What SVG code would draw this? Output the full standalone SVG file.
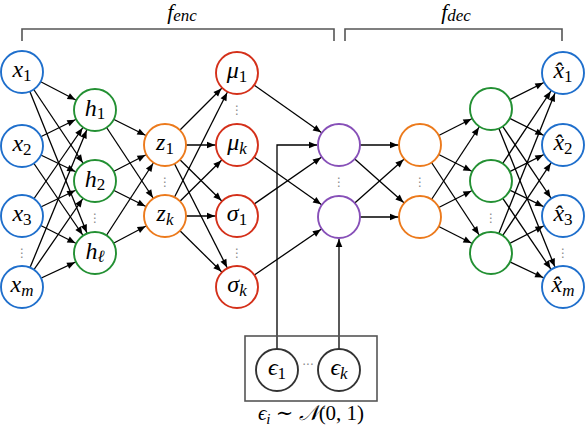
<svg xmlns="http://www.w3.org/2000/svg" width="586" height="432" viewBox="0 0 586 432">
<style>
.e{stroke:#000;stroke-width:1.3;fill:none;marker-end:url(#a)}
.n{fill:#fff;stroke-width:1.9}
.b{stroke:#1f6fcc}.g{stroke:#239033}.o{stroke:#ec7a1c}.r{stroke:#d4301a}.p{stroke:#8750b8}.k{stroke:#333}
.t{font-family:"Liberation Serif","DejaVu Serif",serif;font-size:24px;font-style:italic;text-anchor:middle;fill:#000}
.s{font-size:17px}
.u{font-style:normal}
.d{font-family:"DejaVu Sans",sans-serif;font-size:12px;fill:#888;text-anchor:middle}
.br{stroke:#555;stroke-width:1.6;fill:none}
</style>
<defs>
<marker id="a" markerUnits="userSpaceOnUse" markerWidth="30" markerHeight="10" refX="22" refY="0" orient="auto" overflow="visible">
<path d="M-8,-3.3 L0,0 L-8,3.3 z" fill="#000"/>
</marker>
<marker id="a0" markerUnits="userSpaceOnUse" markerWidth="30" markerHeight="10" refX="0" refY="0" orient="auto" overflow="visible">
<path d="M-8,-3.3 L0,0 L-8,3.3 z" fill="#000"/>
</marker>
</defs>
<g id="brackets">
<path class="br" d="M22,41 V29 H334 V41"/>
<path class="br" d="M345,41 V29 H562 V41"/>
<text class="t" x="182" y="19" style="font-size:22px">f<tspan class="s" dy="2">enc</tspan></text>
<text class="t" x="456" y="19" style="font-size:22px">f<tspan class="s" dy="2">dec</tspan></text>
</g>
<g id="connectors">
<line class="e" x1="22" y1="72" x2="95" y2="110"/>
<line class="e" x1="22" y1="72" x2="95" y2="181"/>
<line class="e" x1="22" y1="72" x2="95" y2="253"/>
<line class="e" x1="22" y1="146" x2="95" y2="110"/>
<line class="e" x1="22" y1="146" x2="95" y2="181"/>
<line class="e" x1="22" y1="146" x2="95" y2="253"/>
<line class="e" x1="22" y1="216" x2="95" y2="110"/>
<line class="e" x1="22" y1="216" x2="95" y2="181"/>
<line class="e" x1="22" y1="216" x2="95" y2="253"/>
<line class="e" x1="22" y1="287" x2="95" y2="110"/>
<line class="e" x1="22" y1="287" x2="95" y2="181"/>
<line class="e" x1="22" y1="287" x2="95" y2="253"/>
<line class="e" x1="95" y1="110" x2="165" y2="145"/>
<line class="e" x1="95" y1="110" x2="165" y2="216"/>
<line class="e" x1="95" y1="181" x2="165" y2="145"/>
<line class="e" x1="95" y1="181" x2="165" y2="216"/>
<line class="e" x1="95" y1="253" x2="165" y2="145"/>
<line class="e" x1="95" y1="253" x2="165" y2="216"/>
<line class="e" x1="165" y1="145" x2="237" y2="73"/>
<line class="e" x1="165" y1="145" x2="237" y2="145"/>
<line class="e" x1="165" y1="145" x2="237" y2="216"/>
<line class="e" x1="165" y1="145" x2="237" y2="287"/>
<line class="e" x1="165" y1="216" x2="237" y2="73"/>
<line class="e" x1="165" y1="216" x2="237" y2="145"/>
<line class="e" x1="165" y1="216" x2="237" y2="216"/>
<line class="e" x1="165" y1="216" x2="237" y2="287"/>
<line class="e" x1="237" y1="73" x2="339" y2="145"/>
<line class="e" x1="237" y1="145" x2="339" y2="217"/>
<line class="e" x1="237" y1="216" x2="339" y2="145"/>
<line class="e" x1="237" y1="287" x2="339" y2="217"/>
<path class="e" style="marker-end:url(#a0)" d="M277,349 V145 H317"/>
<path class="e" style="marker-end:url(#a0)" d="M339,349 V239"/>
<line class="e" x1="339" y1="145" x2="420" y2="145"/>
<line class="e" x1="339" y1="145" x2="420" y2="217"/>
<line class="e" x1="339" y1="217" x2="420" y2="145"/>
<line class="e" x1="339" y1="217" x2="420" y2="217"/>
<line class="e" x1="420" y1="145" x2="491" y2="109"/>
<line class="e" x1="420" y1="145" x2="491" y2="181"/>
<line class="e" x1="420" y1="145" x2="491" y2="253"/>
<line class="e" x1="420" y1="217" x2="491" y2="109"/>
<line class="e" x1="420" y1="217" x2="491" y2="181"/>
<line class="e" x1="420" y1="217" x2="491" y2="253"/>
<line class="e" x1="491" y1="109" x2="563" y2="73"/>
<line class="e" x1="491" y1="109" x2="563" y2="145"/>
<line class="e" x1="491" y1="109" x2="563" y2="216"/>
<line class="e" x1="491" y1="109" x2="563" y2="287"/>
<line class="e" x1="491" y1="181" x2="563" y2="73"/>
<line class="e" x1="491" y1="181" x2="563" y2="145"/>
<line class="e" x1="491" y1="181" x2="563" y2="216"/>
<line class="e" x1="491" y1="181" x2="563" y2="287"/>
<line class="e" x1="491" y1="253" x2="563" y2="73"/>
<line class="e" x1="491" y1="253" x2="563" y2="145"/>
<line class="e" x1="491" y1="253" x2="563" y2="216"/>
<line class="e" x1="491" y1="253" x2="563" y2="287"/>
</g>
<g id="x1"><circle class="n b" cx="22" cy="72" r="21"/><text class="t" x="22" y="77">x<tspan class="s u" dy="4">1</tspan></text></g>
<g id="x2"><circle class="n b" cx="22" cy="146" r="21"/><text class="t" x="22" y="151">x<tspan class="s u" dy="4">2</tspan></text></g>
<g id="x3"><circle class="n b" cx="22" cy="216" r="21"/><text class="t" x="22" y="221">x<tspan class="s u" dy="4">3</tspan></text></g>
<g id="xm"><circle class="n b" cx="22" cy="287" r="21"/><text class="t" x="22" y="292">x<tspan class="s" dy="4">m</tspan></text></g>
<g id="h1"><circle class="n g" cx="95" cy="110" r="21"/><text class="t" x="95" y="116">h<tspan class="s u" dy="3">1</tspan></text></g>
<g id="h2"><circle class="n g" cx="95" cy="181" r="21"/><text class="t" x="95" y="187">h<tspan class="s u" dy="3">2</tspan></text></g>
<g id="hl"><circle class="n g" cx="95" cy="253" r="21"/><text class="t" x="95" y="259">h<tspan class="s" dy="3">ℓ</tspan></text></g>
<g id="z1"><circle class="n o" cx="165" cy="145" r="21"/><text class="t" x="165" y="150">z<tspan class="s u" dy="4">1</tspan></text></g>
<g id="zk"><circle class="n o" cx="165" cy="216" r="21"/><text class="t" x="165" y="221">z<tspan class="s" dy="4">k</tspan></text></g>
<g id="mu1"><circle class="n r" cx="237" cy="73" r="21"/><text class="t" x="237" y="78">μ<tspan class="s u" dy="4">1</tspan></text></g>
<g id="muk"><circle class="n r" cx="237" cy="145" r="21"/><text class="t" x="237" y="150">μ<tspan class="s" dy="4">k</tspan></text></g>
<g id="s1"><circle class="n r" cx="237" cy="216" r="21"/><text class="t" x="237" y="221">σ<tspan class="s u" dy="4">1</tspan></text></g>
<g id="sk"><circle class="n r" cx="237" cy="287" r="21"/><text class="t" x="237" y="292">σ<tspan class="s" dy="4">k</tspan></text></g>
<g id="p1"><circle class="n p" cx="339" cy="145" r="21"/></g>
<g id="p2"><circle class="n p" cx="339" cy="217" r="21"/></g>
<g id="o1"><circle class="n o" cx="420" cy="145" r="21"/></g>
<g id="o2"><circle class="n o" cx="420" cy="217" r="21"/></g>
<g id="g1"><circle class="n g" cx="491" cy="109" r="21"/></g>
<g id="g2"><circle class="n g" cx="491" cy="181" r="21"/></g>
<g id="g3"><circle class="n g" cx="491" cy="253" r="21"/></g>
<g id="y1"><circle class="n b" cx="563" cy="73" r="21"/><text class="t" x="563" y="78">x̂<tspan class="s u" dy="4">1</tspan></text></g>
<g id="y2"><circle class="n b" cx="563" cy="145" r="21"/><text class="t" x="563" y="150">x̂<tspan class="s u" dy="4">2</tspan></text></g>
<g id="y3"><circle class="n b" cx="563" cy="216" r="21"/><text class="t" x="563" y="221">x̂<tspan class="s u" dy="4">3</tspan></text></g>
<g id="ym"><circle class="n b" cx="563" cy="287" r="21"/><text class="t" x="563" y="292">x̂<tspan class="s" dy="4">m</tspan></text></g>
<g id="noise">
<rect x="245" y="336" width="132" height="65" fill="none" stroke="#555" stroke-width="1.6"/>
<g id="e1"><circle class="n k" cx="277" cy="370" r="21"/><text class="t" x="277" y="375">ϵ<tspan class="s u" dy="4">1</tspan></text></g>
<g id="ek"><circle class="n k" cx="339" cy="370" r="21"/><text class="t" x="339" y="375">ϵ<tspan class="s" dy="4">k</tspan></text></g>
<text class="d" x="308" y="369">···</text>
<text class="t" x="311" y="420" style="font-size:21px">ϵ<tspan class="s" dy="4" style="font-size:15px">i</tspan><tspan class="u" dy="-4"> ∼ </tspan>𝒩<tspan class="u">(0, 1)</tspan></text>
</g>
<g id="dots">
<text class="d" x="22" y="257">⋮</text>
<text class="d" x="95" y="222">⋮</text>
<text class="d" x="165" y="186">⋮</text>
<text class="d" x="237" y="114">⋮</text>
<text class="d" x="237" y="257">⋮</text>
<text class="d" x="339" y="186">⋮</text>
<text class="d" x="420" y="186">⋮</text>
<text class="d" x="491" y="222">⋮</text>
<text class="d" x="563" y="257">⋮</text>
</g>
</svg>
